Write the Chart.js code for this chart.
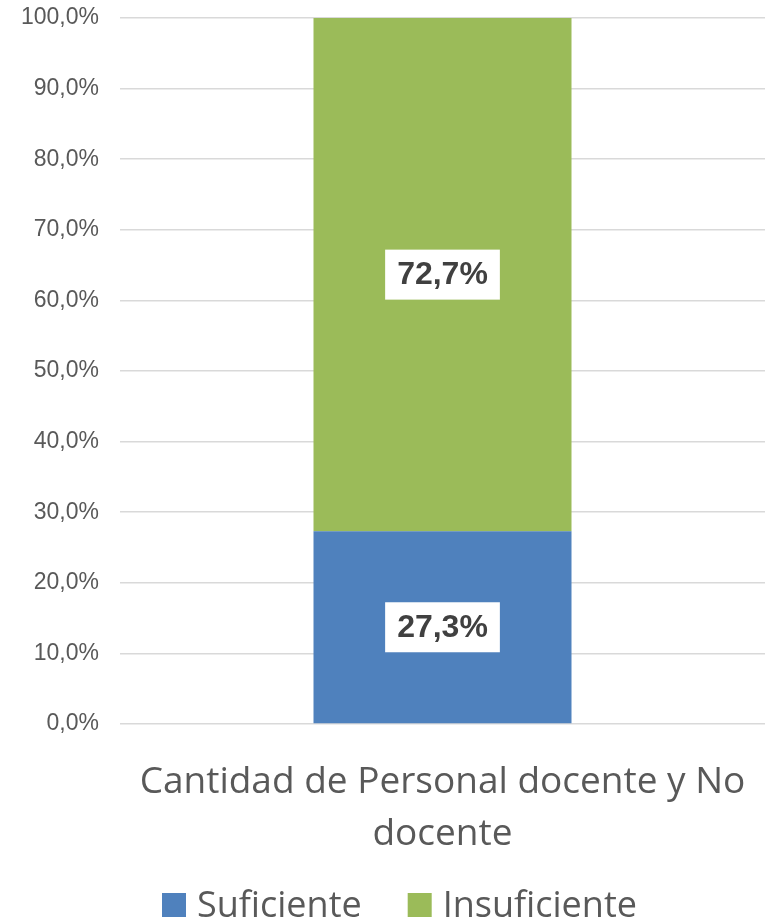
<!DOCTYPE html>
<html>
<head>
<meta charset="utf-8">
<script src="https://cdn.jsdelivr.net/npm/chart.js@4"></script>
<style>
html,body{margin:0;padding:0;background:#fff;}
#wrap{width:765px;height:922px;position:relative;}
</style>
</head>
<body>
<div id="wrap"><canvas id="c" width="765" height="922"></canvas></div>
<script>
// ---- data ----
const categories = [["Cantidad de Personal docente y No", "docente"]];
const seriesNames = ["Suficiente", "Insuficiente"];
const suficiente = [27.3];
const insuficiente = [72.7];
const yTicks = [0, 10, 20, 30, 40, 50, 60, 70, 80, 90, 100];
const colors = ["#4f81bd", "#9bbb59"];

const fmt = v => v.toFixed(1).replace('.', ',') + '%';

const labelPlugin = {
  id: 'segLabels',
  afterDatasetsDraw(chart) {
    const ctx = chart.ctx;
    ctx.save();
    ctx.font = 'bold 32px "Liberation Sans", Arial, sans-serif';
    chart.data.datasets.forEach((ds, di) => {
      const meta = chart.getDatasetMeta(di);
      meta.data.forEach((el, i) => {
        const v = ds.data[i];
        const txt = fmt(v);
        const cx = el.x;
        const cy = (el.y + el.base) / 2;
        const w = ctx.measureText(txt).width + 24;
        const h = 50;
        ctx.fillStyle = '#ffffff';
        ctx.fillRect(cx - w / 2, cy - h / 2, w, h);
        ctx.fillStyle = '#404040';
        ctx.textAlign = 'center';
        ctx.textBaseline = 'middle';
        ctx.fillText(txt, cx, cy + 1);
      });
    });
    ctx.restore();
  }
};

const legendPlugin = {
  id: 'customLegend',
  afterDraw(chart) {
    const ctx = chart.ctx;
    ctx.save();
    ctx.font = '36px "Open Sans", sans-serif';
    ctx.textBaseline = 'alphabetic';
    ctx.textAlign = 'left';
    let x = 162;
    const boxTop = 893, box = 24, baseline = 917;
    chart.data.datasets.forEach((ds, i) => {
      ctx.fillStyle = ds.backgroundColor;
      ctx.fillRect(x, boxTop, box, box);
      ctx.fillStyle = '#595959';
      ctx.fillText(ds.label, x + box + 11, baseline);
      x += box + 11 + ctx.measureText(ds.label).width + 46;
    });
    ctx.restore();
  }
};

new Chart(document.getElementById('c'), {
  type: 'bar',
  data: {
    labels: categories,
    datasets: [
      { label: seriesNames[0], data: suficiente, backgroundColor: colors[0], categoryPercentage: 1, barPercentage: 0.4 },
      { label: seriesNames[1], data: insuficiente, backgroundColor: colors[1], categoryPercentage: 1, barPercentage: 0.4 }
    ]
  },
  options: {
    responsive: false,
    animation: false,
    devicePixelRatio: 1,
    layout: { padding: { top: 18, right: 0, bottom: 60, left: 0 } },
    plugins: { legend: { display: false }, tooltip: { enabled: false } },
    scales: {
      x: {
        stacked: true,
        grid: { display: false, drawTicks: false },
        border: { display: false },
        ticks: {
          maxRotation: 0, minRotation: 0, autoSkip: false,
          color: '#595959', padding: 33,
          font: { family: '"Open Sans", sans-serif', size: 37, lineHeight: 1.4 }
        },
        afterFit(scale) { scale.height = 138; scale.paddingLeft = 0; scale.paddingRight = 0; }
      },
      y: {
        stacked: true,
        min: 0, max: 100,
        afterBuildTicks(scale) { scale.ticks = yTicks.map(v => ({ value: v })); },
        grid: { color: '#d9d9d9', lineWidth: 1.5, drawTicks: false },
        border: { display: false },
        ticks: {
          color: '#595959', padding: 21,
          font: { family: '"Liberation Sans", Arial, sans-serif', size: 23 },
          callback: v => fmt(v)
        },
        afterFit(scale) { scale.width = 120; scale.paddingTop = 0; scale.paddingBottom = 0; }
      }
    }
  },
  plugins: [labelPlugin, legendPlugin]
});
</script>
</body>
</html>
